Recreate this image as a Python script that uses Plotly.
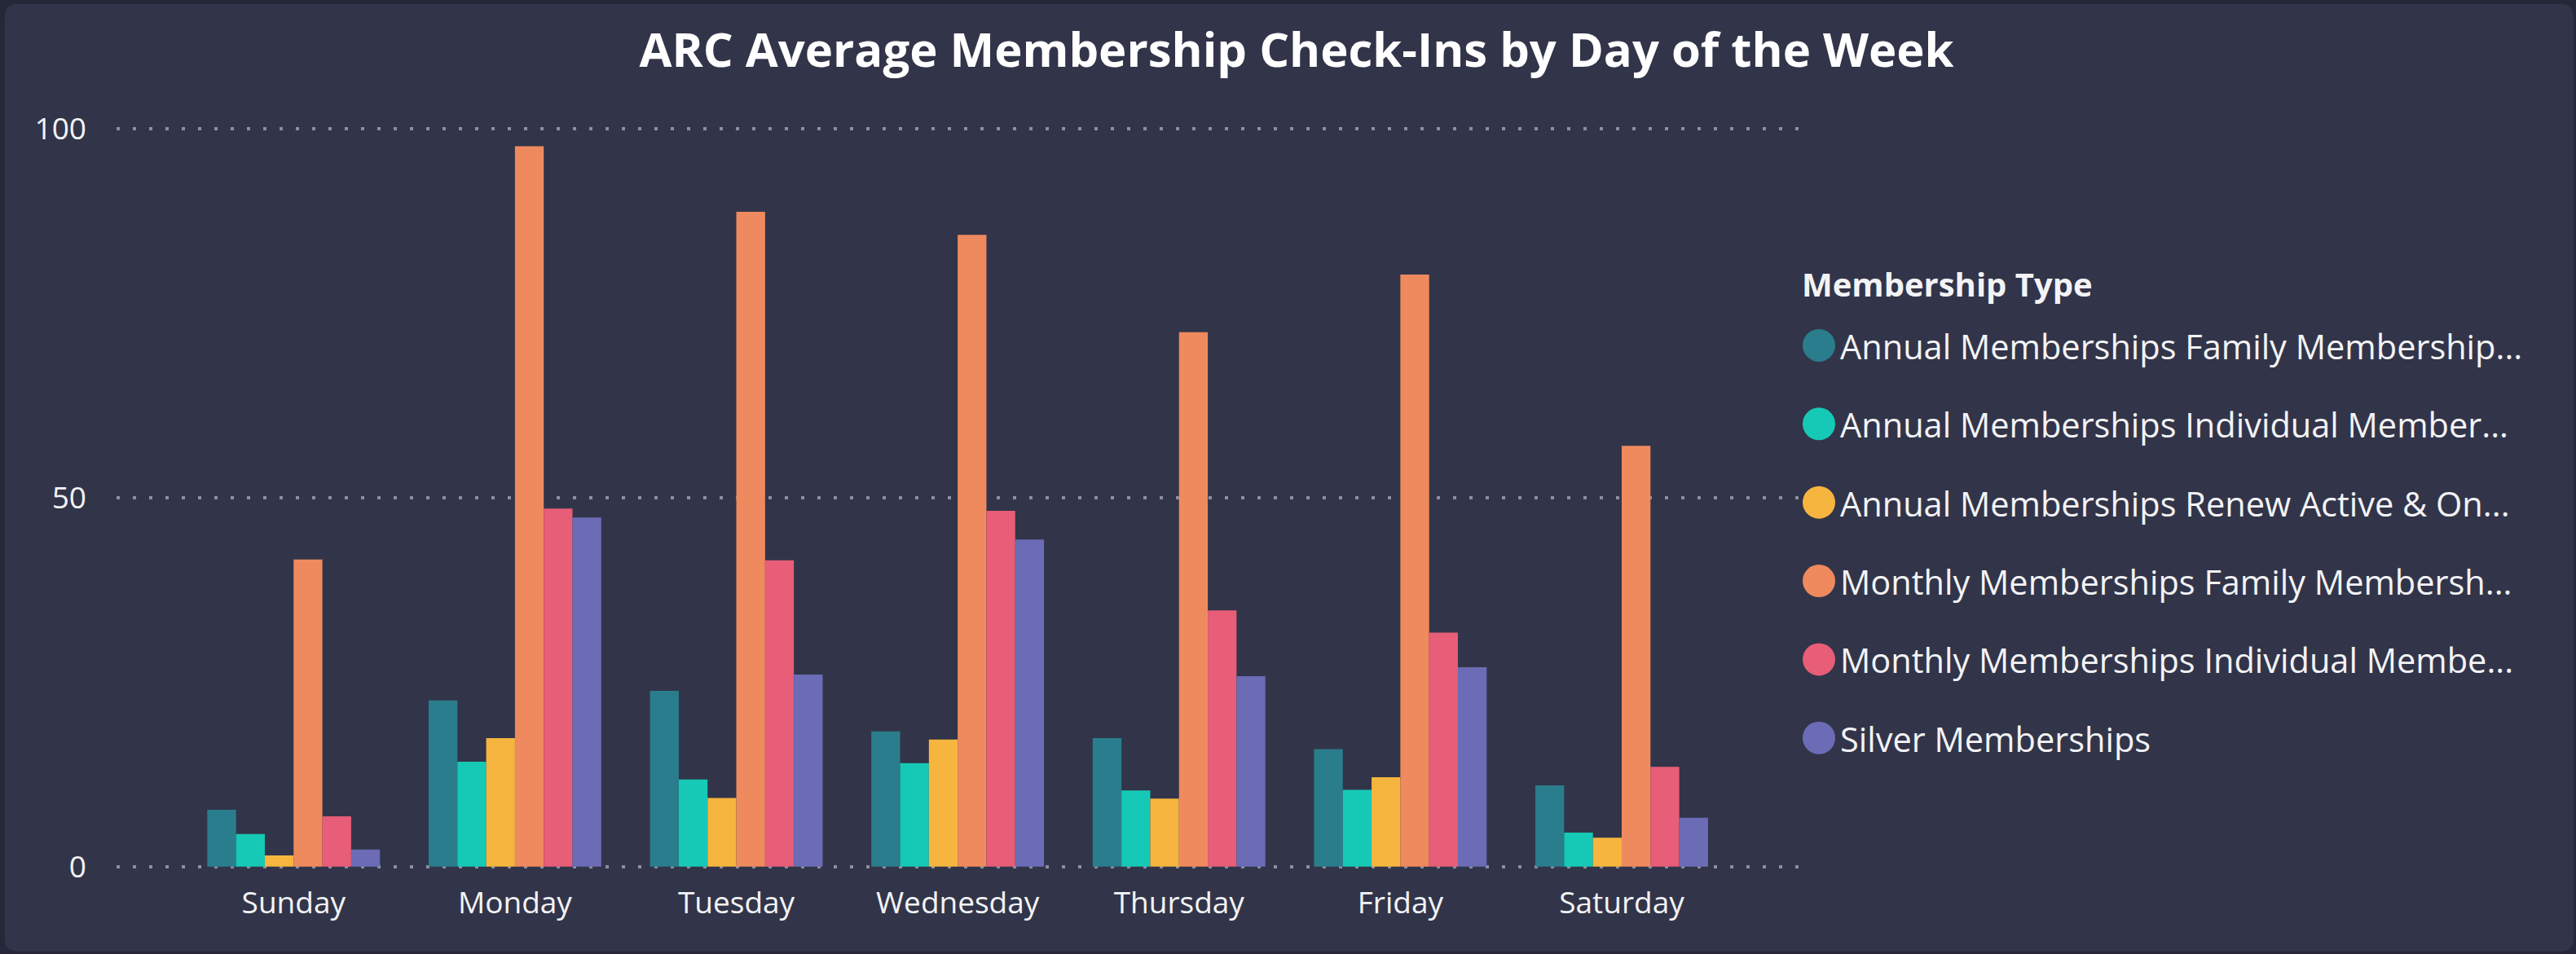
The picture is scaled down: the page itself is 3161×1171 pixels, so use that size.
import plotly.graph_objects as go

# ---------------- data ----------------
days = ["Sunday", "Monday", "Tuesday", "Wednesday", "Thursday", "Friday", "Saturday"]

series_names = [
    "Annual Memberships Family Membership...",
    "Annual Memberships Individual Member...",
    "Annual Memberships Renew Active & On...",
    "Monthly Memberships Family Membersh...",
    "Monthly Memberships Individual Membe...",
    "Silver Memberships",
]

annual_family = [7.7, 22.5, 23.8, 18.3, 17.4, 15.9, 11.0]
annual_individual = [4.4, 14.2, 11.8, 14.0, 10.3, 10.4, 4.6]
annual_renew = [1.5, 17.4, 9.3, 17.2, 9.2, 12.1, 3.9]
monthly_family = [41.6, 97.6, 88.7, 85.6, 72.4, 80.2, 57.0]
monthly_individual = [6.8, 48.5, 41.5, 48.2, 34.7, 31.7, 13.5]
silver = [2.3, 47.3, 26.0, 44.3, 25.8, 27.0, 6.6]

y_ticks = [0, 50, 100]

series_values = [annual_family, annual_individual, annual_renew,
                 monthly_family, monthly_individual, silver]
colors = ["#2a7d8c", "#16c9b6", "#f5b53e", "#ef8a5e", "#e85d77", "#6b6cb5"]

# ---------------- layout geometry (pixels) ----------------
W, H = 3161, 1171
PL, PR, PT, PB = 143, 2210, 136, 1065.3   # plot area edges in px
PW, PH = PR - PL, PB - PT


def px_x(x):
    return (x - PL) / PW


def px_y(y):
    return (PB - y) / PH


FONT = "Segoe UI, Open Sans, sans-serif"
TEXT = "#f3f3f6"
CARD = "#323549"
OUTER = "#26283a"

fig = go.Figure()
for name, vals, col in zip(series_names, series_values, colors):
    fig.add_trace(go.Bar(x=days, y=vals, name=name, marker=dict(color=col, line=dict(width=0)),
                         showlegend=False))

shapes = []
annotations = []

# card background with rounded corners
x0, y0, x1, y1, r = 6, 5, 3158, 1168, 16
path = (f"M {px_x(x0 + r)},{px_y(y0)} L {px_x(x1 - r)},{px_y(y0)} "
        f"Q {px_x(x1)},{px_y(y0)} {px_x(x1)},{px_y(y0 + r)} "
        f"L {px_x(x1)},{px_y(y1 - r)} Q {px_x(x1)},{px_y(y1)} {px_x(x1 - r)},{px_y(y1)} "
        f"L {px_x(x0 + r)},{px_y(y1)} Q {px_x(x0)},{px_y(y1)} {px_x(x0)},{px_y(y1 - r)} "
        f"L {px_x(x0)},{px_y(y0 + r)} Q {px_x(x0)},{px_y(y0)} {px_x(x0 + r)},{px_y(y0)} Z")
shapes.append(dict(type="path", path=path, xref="paper", yref="paper",
                   fillcolor=CARD, line=dict(width=0), layer="below"))

# custom legend (circle markers)
annotations.append(dict(text="<b>Membership Type</b>", x=px_x(2209), y=px_y(349),
                        xref="paper", yref="paper", xanchor="left", yanchor="middle",
                        showarrow=False, font=dict(family=FONT, size=40, color=TEXT)))
leg_y0, leg_dy, rad = 424, 96.4, 20
for i, (name, col) in enumerate(zip(series_names, colors)):
    cy = leg_y0 + i * leg_dy
    cx = 2232
    shapes.append(dict(type="circle", xref="paper", yref="paper",
                       x0=px_x(cx - rad), x1=px_x(cx + rad),
                       y0=px_y(cy + rad), y1=px_y(cy - rad),
                       fillcolor=col, line=dict(width=0)))
    annotations.append(dict(text=name, x=px_x(2256), y=px_y(cy + 1),
                            xref="paper", yref="paper", xanchor="left", yanchor="middle",
                            showarrow=False, font=dict(family=FONT, size=41.5, color=TEXT)))

fig.update_layout(
    width=W, height=H,
    margin=dict(l=PL, r=W - PR, t=PT, b=H - PB, pad=0),
    paper_bgcolor=OUTER,
    plot_bgcolor="rgba(0,0,0,0)",
    barmode="group",
    bargap=0.22,
    bargroupgap=0,
    showlegend=False,
    title=dict(text="<b>ARC Average Membership Check-Ins by Day of the Week</b>",
               x=1591 / W, xanchor="center", y=1 - 62 / H, yanchor="middle",
               xref="container", yref="container",
               font=dict(family=FONT, size=58, color="#ffffff")),
    font=dict(family=FONT, color=TEXT),
    shapes=shapes,
    annotations=annotations,
)

fig.update_xaxes(range=[-0.8, 6.81], showgrid=False, zeroline=False, showline=False,
                 ticks="", tickfont=dict(family=FONT, size=37, color=TEXT),
                 ticklabelstandoff=18)
fig.update_yaxes(range=[-0.15, 102.4], tickvals=y_ticks, ticktext=[str(v) for v in y_ticks],
                 showgrid=True, gridcolor="#8d8fa0", gridwidth=3.5, griddash="3.5px,16.5px",
                 zeroline=False, showline=False, ticks="",
                 tickfont=dict(family=FONT, size=37, color=TEXT),
                 ticklabelstandoff=36)

fig.write_html("out.html",
               config={"displayModeBar": False},
               post_script="document.body.style.margin='0';document.body.style.overflow='hidden';")
